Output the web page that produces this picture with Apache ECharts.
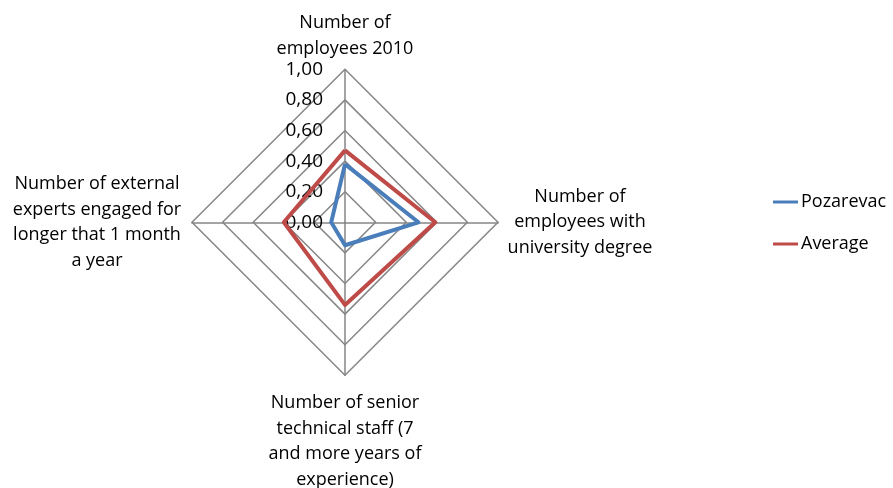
<!DOCTYPE html>
<html>
<head>
<meta charset="utf-8">
<script src="https://cdn.jsdelivr.net/npm/echarts@6/dist/echarts.min.js"></script>
<style>
  html, body { margin: 0; padding: 0; background: #ffffff; }
  #chart { width: 893px; height: 488px; }
</style>
</head>
<body>
<div id="chart"></div>
<script>
// Indicators, listed counter-clockwise starting from the top spoke
const categories = [
  'Number of\nemployees 2010',
  'Number of external\nexperts engaged for\nlonger that 1 month\na year',
  'Number of senior\ntechnical staff (7\nand more years of\nexperience)',
  'Number of\nemployees with\nuniversity degree'
];
const seriesNames = ['Pozarevac', 'Average'];
const pozarevac = [0.38, 0.09, 0.15, 0.48];
const average = [0.47, 0.40, 0.54, 0.59];
const axisMax = 1;
const tickStep = 0.2;

const FONT = 'Open Sans';
const FS = 18;
const TEXT = '#000000';
const GRID_GRAY = '#868686';
const CENTER = [345, 222.3];
const RADIUS = 153;

// rich style key per indicator so every multi-line name is centred on itself
const nameStyleKey = ['t', 'l', 'b', 'r'];

function nameStyle(width) {
  return { fontFamily: FONT, fontSize: FS, color: TEXT, lineHeight: 25.5, align: 'center', width: width };
}

const chart = echarts.init(document.getElementById('chart'), null, { renderer: 'canvas' });

const option = {
  backgroundColor: '#ffffff',
  animation: false,
  color: ['#4A7EBB', '#BE4B48'],
  legend: {
    orient: 'vertical',
    left: 773,
    top: 192,
    padding: 0,
    itemGap: 22,
    itemWidth: 25,
    itemHeight: 3,
    icon: 'rect',
    data: seriesNames,
    textStyle: { fontFamily: FONT, fontSize: FS, color: TEXT, lineHeight: 20, padding: [0, 0, 0, -2] }
  },
  // value scale along the top spoke
  grid: {
    left: CENTER[0],
    top: CENTER[1] - RADIUS,
    width: 10,
    height: RADIUS
  },
  xAxis: { type: 'value', show: false },
  yAxis: {
    type: 'value',
    min: 0,
    max: axisMax,
    interval: tickStep,
    axisLine: { show: false },
    axisTick: { show: false },
    splitLine: { show: false },
    axisLabel: {
      margin: 22,
      fontFamily: FONT,
      fontSize: 19,
      color: TEXT,
      formatter: v => v.toFixed(2).replace('.', ',')
    }
  },
  radar: {
    center: CENTER,
    radius: RADIUS,
    shape: 'polygon',
    startAngle: 90,
    splitNumber: 5,
    nameGap: 8,
    indicator: categories.map(name => ({ name: name, min: 0, max: axisMax })),
    axisName: {
      color: TEXT,
      fontFamily: FONT,
      fontSize: FS,
      formatter: function (name) {
        const key = nameStyleKey[categories.indexOf(name)];
        const lines = name.split('\n').map(s => '{' + key + '|' + s + '}');
        // the bottom name sits a little further from the outer ring
        if (key === 'b') lines.unshift('{gap| }');
        return lines.join('\n');
      },
      rich: {
        t: nameStyle(150),
        b: nameStyle(170),
        r: nameStyle(148),
        l: nameStyle(174),
        gap: { fontSize: 1, lineHeight: 7, width: 170 }
      }
    },
    splitArea: { show: false },
    splitLine: { lineStyle: { color: GRID_GRAY, width: 1.5 } },
    axisLine: { lineStyle: { color: GRID_GRAY, width: 1.5 } },
    axisTick: { show: false }
  },
  series: [{
    type: 'radar',
    symbol: 'none',
    lineStyle: { width: 4 },
    data: [
      { name: seriesNames[0], value: pozarevac, lineStyle: { color: '#4A7EBB', width: 4 }, itemStyle: { color: '#4A7EBB' } },
      { name: seriesNames[1], value: average, lineStyle: { color: '#BE4B48', width: 4 }, itemStyle: { color: '#BE4B48' } }
    ]
  }]
};

chart.setOption(option);
</script>
</body>
</html>
